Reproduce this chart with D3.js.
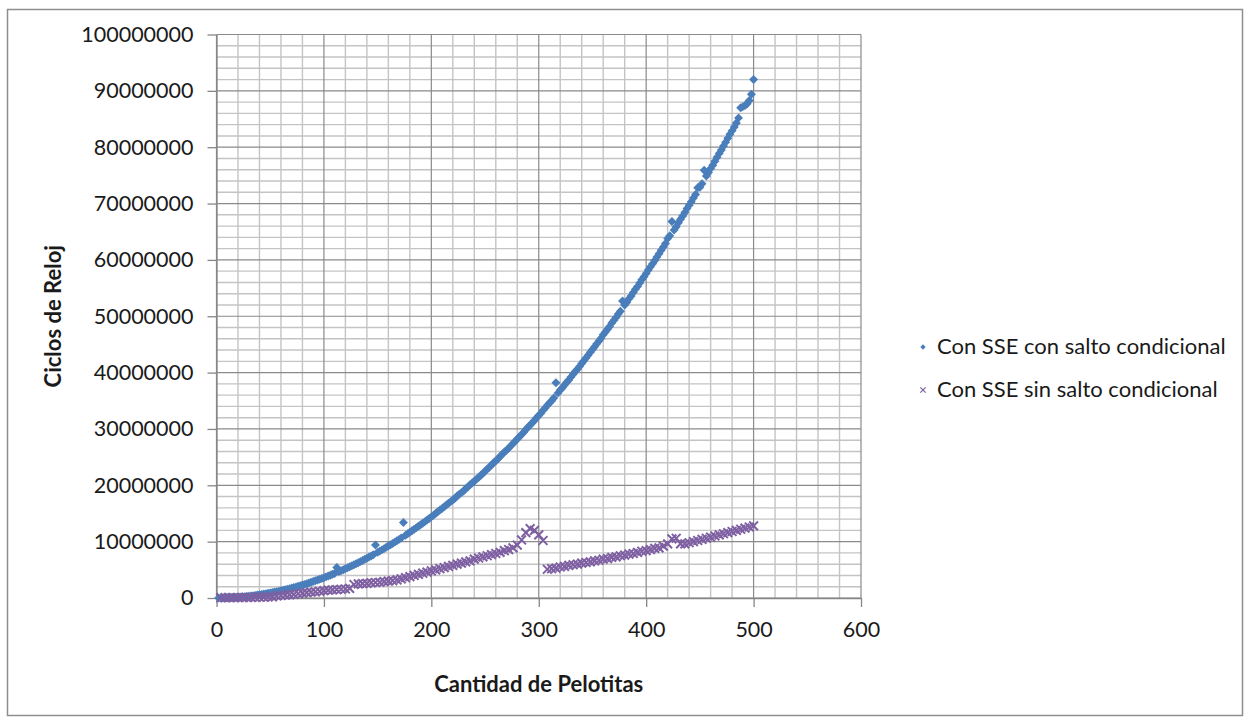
<!DOCTYPE html>
<html>
<head>
<meta charset="utf-8">
<script src="https://d3js.org/d3.v7.min.js"></script>
<style>
  body { margin: 0; background: #fff; }
  text { font-family: Lato, "Open Sans", sans-serif; fill: #1a1a1a; }
</style>
</head>
<body>
<svg id="chart"></svg>
<script>
  // Ciclos de reloj (en millones), x = cantidad de pelotitas
  const blueX = d3.range(2, 501, 2);
  const blueValues = [
    0.00,0.01,0.01,0.02,0.04,0.05,0.07,0.09,0.12,0.14,
    0.17,0.21,0.24,0.28,0.32,0.37,0.42,0.47,0.52,0.58,
    0.64,0.70,0.76,0.83,0.90,0.97,1.05,1.13,1.21,1.30,
    1.38,1.47,1.57,1.66,1.76,1.87,1.97,2.08,2.19,2.30,
    2.42,2.54,2.66,2.79,2.92,3.05,3.18,3.32,3.46,3.60,
    3.75,3.89,4.05,4.20,4.36,5.40,4.68,4.84,5.01,5.18,
    5.36,5.54,5.72,5.90,6.08,6.27,6.46,6.66,6.86,7.06,
    7.26,7.47,7.67,9.40,8.10,8.32,8.54,8.76,8.99,9.22,
    9.45,9.68,9.92,10.16,10.40,10.65,13.40,11.15,11.41,11.66,
    11.92,12.19,12.45,12.72,13.00,13.27,13.55,13.83,14.11,14.40,
    14.7,15.0,15.3,15.6,15.9,16.2,16.5,16.8,17.1,17.4,
    17.7,18.1,18.4,18.7,19.0,19.4,19.7,20.1,20.4,20.7,
    21.1,21.4,21.8,22.1,22.5,22.9,23.2,23.6,24.0,24.3,
    24.7,25.1,25.5,25.9,26.2,26.6,27.0,27.4,27.8,28.2,
    28.6,29.0,29.4,29.9,30.3,30.7,31.1,31.5,32.0,32.4,
    32.8,33.3,33.7,34.2,34.6,35.0,35.5,38.2,36.4,36.9,
    37.3,37.8,38.3,38.7,39.2,39.7,40.2,40.6,41.1,41.6,
    42.1,42.6,43.1,43.6,44.1,44.6,45.1,45.6,46.1,46.7,
    47.2,47.7,48.2,48.8,49.3,49.8,50.4,50.9,52.7,52.0,
    52.5,53.1,53.6,54.2,54.8,55.3,55.9,56.5,57.0,57.6,
    58.2,58.8,59.3,59.9,60.5,61.1,61.7,62.3,62.9,63.8,
    64.3,66.8,65.3,65.9,66.6,67.2,67.8,68.4,69.1,69.7,
    70.3,71.0,71.6,72.8,72.9,73.5,75.9,74.9,75.5,76.2,
    76.8,77.5,78.2,78.9,79.5,80.2,80.9,81.6,82.3,82.9,
    83.6,84.3,85.2,87.0,87.2,87.4,87.7,88.3,89.4,92.0
  ];

  const purpleX = d3.range(4, 501, 4);
  const purpleValues = [
    0.05,0.05,0.06,0.06,0.07,0.08,0.09,0.10,0.12,0.14,
    0.16,0.18,0.20,0.35,0.45,0.50,0.55,0.65,0.75,0.85,
    0.95,1.05,1.10,1.20,1.30,1.40,1.45,1.50,1.55,1.60,
    1.70,2.40,2.50,2.55,2.60,2.70,2.75,2.80,2.90,3.00,
    3.10,3.20,3.40,3.60,3.80,4.00,4.20,4.40,4.60,4.80,
    5.00,5.20,5.40,5.60,5.80,6.00,6.20,6.40,6.60,6.90,
    7.10,7.30,7.50,7.70,7.90,8.10,8.40,8.60,8.90,9.40,
    10.30,11.60,12.30,12.00,11.20,10.20,5.10,5.20,5.30,5.50,
    5.60,5.80,5.90,6.00,6.20,6.30,6.40,6.60,6.70,6.90,
    7.00,7.20,7.30,7.50,7.60,7.80,7.90,8.10,8.30,8.40,
    8.60,8.80,8.90,9.20,9.60,10.50,10.60,9.60,9.60,9.80,
    10.00,10.20,10.40,10.60,10.80,11.00,11.20,11.40,11.60,11.80,
    12.00,12.20,12.40,12.60,12.80
  ];

  const seriesNames = ["Con SSE con salto condicional", "Con SSE sin salto condicional"];
  const xTicks = [0, 100, 200, 300, 400, 500, 600];
  const yTicks = [0, 10, 20, 30, 40, 50, 60, 70, 80, 90, 100]; // millones

  const width = 1250, height = 722;
  const plot = { left: 216.5, right: 861, top: 34.5, bottom: 598 };
  const blue = "#4a7ebb", purple = "#7e5fa2";

  const svg = d3.select("#chart").attr("width", width).attr("height", height);

  // Chart area border
  svg.append("rect")
    .attr("x", 7.5).attr("y", 9.5)
    .attr("width", 1235).attr("height", 706)
    .attr("fill", "#fff").attr("stroke", "#8e8e8e").attr("stroke-width", 1.5);

  const x = d3.scaleLinear().domain([0, 600]).range([plot.left, plot.right]);
  const y = d3.scaleLinear().domain([0, 100]).range([plot.bottom, plot.top]);

  // Minor gridlines
  const minorX = d3.range(0, 601, 20).filter(v => v % 100 !== 0);
  const minorY = d3.range(0, 101, 2).filter(v => v % 10 !== 0);
  svg.append("g").selectAll("line").data(minorX).join("line")
    .attr("x1", d => x(d)).attr("x2", d => x(d))
    .attr("y1", plot.top).attr("y2", plot.bottom)
    .attr("stroke", "#c4c4c4").attr("stroke-width", 1.4);
  svg.append("g").selectAll("line").data(minorY).join("line")
    .attr("x1", plot.left).attr("x2", plot.right)
    .attr("y1", d => y(d)).attr("y2", d => y(d))
    .attr("stroke", "#c4c4c4").attr("stroke-width", 1.4);

  // Major gridlines
  svg.append("g").selectAll("line").data(xTicks).join("line")
    .attr("x1", d => x(d)).attr("x2", d => x(d))
    .attr("y1", plot.top).attr("y2", plot.bottom)
    .attr("stroke", "#8a8a8a").attr("stroke-width", 1.2);
  svg.append("g").selectAll("line").data(yTicks).join("line")
    .attr("x1", plot.left).attr("x2", plot.right)
    .attr("y1", d => y(d)).attr("y2", d => y(d))
    .attr("stroke", "#8a8a8a").attr("stroke-width", 1.2);

  // Axes
  const yAxis = svg.append("g")
    .attr("transform", `translate(${plot.left},0)`)
    .call(d3.axisLeft(y).tickValues(yTicks).tickSize(9).tickSizeOuter(0)
      .tickPadding(14).tickFormat(d => String(d * 1000000)));
  const xAxis = svg.append("g")
    .attr("transform", `translate(0,${plot.bottom})`)
    .call(d3.axisBottom(x).tickValues(xTicks).tickSize(9).tickSizeOuter(0)
      .tickPadding(15));
  [yAxis, xAxis].forEach(a => {
    a.select(".domain").attr("stroke", "#868686").attr("stroke-width", 1.3);
    a.selectAll(".tick line").attr("stroke", "#868686").attr("stroke-width", 1.3);
    a.selectAll(".tick text").style("font-size", "21.5px").attr("fill", "#1a1a1a");
  });

  // Blue series: diamonds
  const diamond = d3.symbol(d3.symbolSquare, 40);
  svg.append("g").selectAll("path")
    .data(blueValues.map((v, i) => [blueX[i], v]))
    .join("path")
    .attr("d", diamond)
    .attr("transform", d => `translate(${x(d[0])},${y(d[1])}) rotate(45)`)
    .attr("fill", blue);

  // Purple series: x markers
  const cross = d3.symbol(d3.symbolTimes, 52);
  svg.append("g").selectAll("path")
    .data(purpleValues.map((v, i) => [purpleX[i], v]))
    .join("path")
    .attr("d", cross)
    .attr("transform", d => `translate(${x(d[0])},${y(d[1])})`)
    .attr("fill", "none").attr("stroke", purple).attr("stroke-width", 2);

  // Axis titles
  svg.append("text")
    .attr("x", (plot.left + plot.right) / 2).attr("y", 692)
    .attr("text-anchor", "middle")
    .style("font-size", "22px").style("font-weight", "bold")
    .text("Cantidad de Pelotitas");
  svg.append("text")
    .attr("transform", `translate(61,${(plot.top + plot.bottom) / 2}) rotate(-90)`)
    .attr("text-anchor", "middle")
    .style("font-size", "22px").style("font-weight", "bold")
    .text("Ciclos de Reloj");

  // Legend
  const legend = svg.append("g");
  legend.append("path")
    .attr("d", d3.symbol(d3.symbolSquare, 14))
    .attr("transform", "translate(923,347) rotate(45)")
    .attr("fill", blue);
  legend.append("path")
    .attr("d", d3.symbol(d3.symbolTimes, 20))
    .attr("transform", "translate(923,390)")
    .attr("fill", "none").attr("stroke", purple).attr("stroke-width", 1.2);
  legend.selectAll("text").data(seriesNames).join("text")
    .attr("x", 937).attr("y", (d, i) => 346 + i * 43)
    .attr("dy", "0.35em")
    .style("font-size", "22px")
    .text(d => d);
</script>
</body>
</html>
